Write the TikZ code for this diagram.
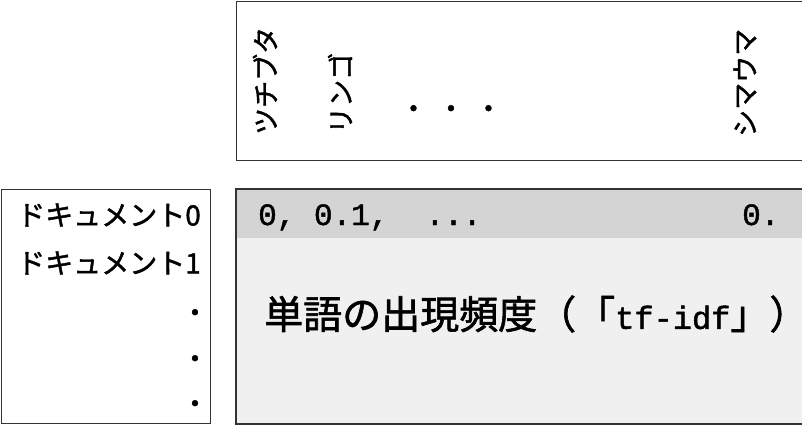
\documentclass[tikz,border=0pt]{standalone}
\usepackage{fontspec}
\setmainfont[FakeBold=1.5]{Noto Sans CJK JP}
\setmonofont[FakeBold=1.5]{Liberation Mono}
\usetikzlibrary{positioning}
\definecolor{mline}{HTML}{333333}
\definecolor{mband}{HTML}{D4D4D4}
\definecolor{mbody}{HTML}{F0F0F0}
\tikzstyle{panel} = [rectangle, draw=mline, line width=1.2pt, inner sep=0pt, anchor=north west]
\tikzstyle{vocab} = [rotate=90, anchor=west, inner sep=0pt, font=\fontsize{27}{27}\selectfont]
\tikzstyle{docname} = [anchor=east, inner sep=0pt, font=\fontsize{28}{28}\selectfont]
\tikzstyle{vdot} = [inner sep=0pt, font=\fontsize{28}{28}\selectfont]
\tikzstyle{score} = [anchor=base west, inner sep=0pt, font=\ttfamily\fontsize{31}{31}\selectfont]
\begin{document}
\begin{tikzpicture}[x=1pt, y=-1pt]
\useasboundingbox (0,0) rectangle (802,424);
% boxes
\node (words) [panel, minimum width=580pt, minimum height=159pt] at (236,1) {};
\node (docs) [panel, minimum width=209pt, minimum height=234pt] at (1,189) {};
\node (tfidf) [panel, fill=mbody, minimum width=580pt, minimum height=234pt] at (236,189) {};
\node (header) [rectangle, fill=mband, inner sep=0pt, anchor=north west, minimum width=580pt, minimum height=49pt] at (tfidf.north west) {};
\draw [draw=mline, line width=1.2pt] (tfidf.north west) rectangle (tfidf.south east);
% words
\node (aardvark) [vocab] at (265,135) {ツチブタ};
\node (apple) [vocab] at (340,134) {リンゴ};
\node (wordgap) [vdot] at (451,112) {・\hskip9.5pt・\hskip9.5pt・};
\node (zebra) [vocab] at (745,137) {シマウマ};
% documents
\node (doc0) [docname] at (201,215) {ドキュメント0};
\node (doc1) [docname] at (201,263) {ドキュメント1};
\node (docgap0) [vdot] at (195,316) {・};
\node (docgap1) [vdot] at (195,362) {・};
\node (docgap2) [vdot] at (195,407) {・};
% values
\node (first) [score] at (258,225) {0, 0.1,\ \ ...};
\node (last) [score] at (742,225) {0.};
\node (caption) [anchor=west, inner sep=0pt, font=\fontsize{39}{39}\selectfont] at (264,314) {単語の出現頻度（「{\ttfamily\fontsize{32}{32}\selectfont tf-idf}」\makebox[0.5em][l]{）}};
\end{tikzpicture}
\end{document}
